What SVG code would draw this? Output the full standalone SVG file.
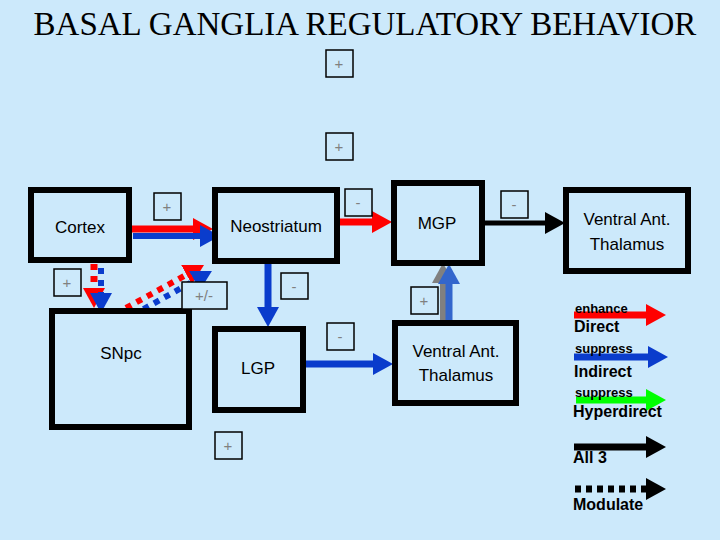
<svg xmlns="http://www.w3.org/2000/svg" width="720" height="540" viewBox="0 0 720 540">
<defs>
<style>
.n{fill:#cce9fb;stroke:#000;stroke-width:6}
.t{font-family:"Liberation Sans",Arial,sans-serif;font-size:17px;text-anchor:middle;fill:#000}
.s{fill:#cce9fb;stroke:#000;stroke-width:1.5}
.st{font-family:"Liberation Sans",Arial,sans-serif;font-size:15px;text-anchor:middle;fill:#808080}
.lg{font-family:"Liberation Sans",Arial,sans-serif;font-weight:bold;font-size:16px;fill:#000}
.ls{font-family:"Liberation Sans",Arial,sans-serif;font-weight:bold;font-size:13px;fill:#000}
</style>
<marker id="hr" markerWidth="20" markerHeight="22" refX="0" refY="11" orient="auto" markerUnits="userSpaceOnUse"><path d="M0,0L20,11L0,22z" fill="#f00"/></marker>
<marker id="hb" markerWidth="20" markerHeight="22" refX="0" refY="11" orient="auto" markerUnits="userSpaceOnUse"><path d="M0,0L20,11L0,22z" fill="#0a3ccc"/></marker>
<marker id="hk" markerWidth="20" markerHeight="22" refX="0" refY="11" orient="auto" markerUnits="userSpaceOnUse"><path d="M0,0L20,11L0,22z" fill="#000"/></marker>
<marker id="hg" markerWidth="20" markerHeight="22" refX="0" refY="11" orient="auto" markerUnits="userSpaceOnUse"><path d="M0,0L20,11L0,22z" fill="#0f0"/></marker>
<marker id="hy" markerWidth="20" markerHeight="22" refX="0" refY="11" orient="auto" markerUnits="userSpaceOnUse"><path d="M0,0L20,11L0,22z" fill="#808080"/></marker>
<marker id="hl" markerWidth="20" markerHeight="22" refX="0" refY="11" orient="auto" markerUnits="userSpaceOnUse"><path d="M0,0L20,11L0,22z" fill="#3366cc"/></marker>
</defs>
<rect width="720" height="540" fill="#cce9fb"/>
<text x="365" y="35" font-family="Liberation Serif,serif" font-size="33" text-anchor="middle">BASAL GANGLIA REGULATORY BEHAVIOR</text>

<g id="connectors" fill="none">
<line x1="129" y1="229" x2="193" y2="229" stroke="#f00" stroke-width="7" marker-end="url(#hr)"/>
<line x1="133" y1="236" x2="200" y2="236" stroke="#0a3ccc" stroke-width="6" marker-end="url(#hb)"/>
<line x1="337" y1="222" x2="372" y2="222" stroke="#f00" stroke-width="7" marker-end="url(#hr)"/>
<line x1="482" y1="223" x2="545" y2="223" stroke="#000" stroke-width="5" marker-end="url(#hk)"/>
<line x1="94" y1="264" x2="94" y2="288" stroke="#f00" stroke-width="7" stroke-dasharray="6,6" marker-end="url(#hr)"/>
<line x1="101" y1="268" x2="101" y2="293" stroke="#0a3ccc" stroke-width="6" stroke-dasharray="6,6" marker-end="url(#hb)"/>
<line x1="126" y1="308" x2="186.5" y2="274.7" stroke="#f00" stroke-width="6" stroke-dasharray="6,6" marker-end="url(#hr)"/>
<line x1="133" y1="315" x2="194.5" y2="280.7" stroke="#0a3ccc" stroke-width="6" stroke-dasharray="6,6" marker-end="url(#hb)"/>
<line x1="268" y1="262" x2="268" y2="307" stroke="#0a3ccc" stroke-width="7" marker-end="url(#hb)"/>
<line x1="303" y1="364" x2="373" y2="364" stroke="#0a3ccc" stroke-width="7" marker-end="url(#hb)"/>
<line x1="443" y1="322" x2="443" y2="283" stroke="#808080" stroke-width="6" marker-end="url(#hy)"/>
<line x1="449" y1="322" x2="449" y2="284" stroke="#3366cc" stroke-width="7" marker-end="url(#hl)"/>
</g>

<g id="cortex"><rect class="n" x="31" y="190" width="98" height="70"/><text class="t" x="80" y="233">Cortex</text></g>
<g id="neostriatum"><rect class="n" x="215" y="190" width="122" height="71"/><text class="t" x="276" y="232">Neostriatum</text></g>
<g id="snpc"><rect class="n" x="52" y="311" width="137" height="116"/><text class="t" x="121" y="359">SNpc</text></g>
<g id="lgp"><rect class="n" x="215" y="329" width="88" height="81"/><text class="t" x="258" y="374">LGP</text></g>
<g id="mgp"><rect class="n" x="394" y="183" width="88" height="80"/><text class="t" x="437" y="229">MGP</text></g>
<g id="vat1"><rect class="n" x="395" y="323" width="121" height="80"/><text class="t" x="456" y="357">Ventral Ant.</text><text class="t" x="456" y="381">Thalamus</text></g>
<g id="vat2"><rect class="n" x="566" y="190" width="122" height="81"/><text class="t" x="627" y="225">Ventral Ant.</text><text class="t" x="627" y="250">Thalamus</text></g>

<g id="signs">
<rect class="s" x="326" y="50" width="27" height="27"/><text class="st" x="339" y="69">+</text>
<rect class="s" x="326" y="133" width="27" height="27"/><text class="st" x="339" y="152">+</text>
<rect class="s" x="154" y="193" width="27" height="27"/><text class="st" x="167" y="212">+</text>
<rect class="s" x="345" y="189" width="27" height="27"/><text class="st" x="358" y="208">-</text>
<rect class="s" x="501" y="191" width="27" height="27"/><text class="st" x="514" y="210">-</text>
<rect class="s" x="54" y="269" width="27" height="27"/><text class="st" x="67" y="288">+</text>
<rect class="s" x="182" y="282" width="45" height="27"/><text class="st" x="204" y="301">+/-</text>
<rect class="s" x="281" y="273" width="27" height="26"/><text class="st" x="294" y="292">-</text>
<rect class="s" x="411" y="287" width="27" height="27"/><text class="st" x="424" y="306">+</text>
<rect class="s" x="327" y="323" width="27" height="27"/><text class="st" x="340" y="342">-</text>
<rect class="s" x="215" y="432" width="27" height="27"/><text class="st" x="228" y="451">+</text>
</g>

<g id="legend">
<line x1="574" y1="315" x2="646" y2="315" stroke="#f00" stroke-width="7" marker-end="url(#hr)"/>
<text class="ls" x="575" y="313">enhance</text><text class="lg" x="574" y="332">Direct</text>
<line x1="574" y1="357" x2="648" y2="357" stroke="#0a3ccc" stroke-width="7" marker-end="url(#hb)"/>
<text class="ls" x="575" y="353">suppress</text><text class="lg" x="574" y="377">Indirect</text>
<line x1="576" y1="400" x2="646" y2="400" stroke="#0f0" stroke-width="7" marker-end="url(#hg)"/>
<text class="ls" x="575" y="397">suppress</text><text class="lg" x="573" y="417">Hyperdirect</text>
<line x1="574" y1="447" x2="646" y2="447" stroke="#000" stroke-width="7" marker-end="url(#hk)"/>
<text class="lg" x="573" y="463">All 3</text>
<line x1="575" y1="489" x2="646" y2="489" stroke="#000" stroke-width="7" stroke-dasharray="6,5" marker-end="url(#hk)"/>
<text class="lg" x="573" y="510">Modulate</text>
</g>
</svg>
